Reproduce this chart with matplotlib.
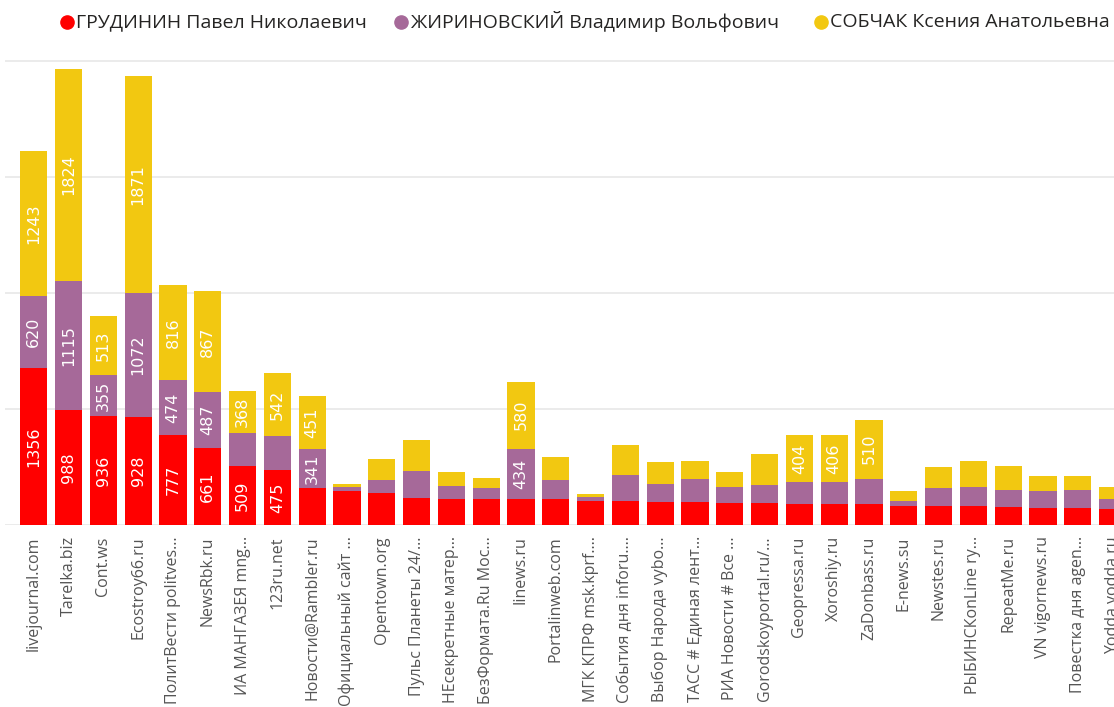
import matplotlib
matplotlib.use("Agg")
import matplotlib.pyplot as plt
from matplotlib.lines import Line2D
import numpy as np

# источники (подписи оси X, как в отчёте - уже обрезанные)
sources = [
    "livejournal.com", "Tarelka.biz", "Cont.ws", "Ecostroy66.ru",
    "ПолитВести politves...", "NewsRbk.ru", "ИА МАНГАЗЕЯ mng...", "123ru.net",
    "Новости@Rambler.ru", "Официальный сайт ...", "Opentown.org",
    "Пульс Планеты 24/...", "НЕсекретные матер...", "БезФормата.Ru Мос...",
    "Iinews.ru", "Portalinweb.com", "МГК КПРФ msk.kprf....",
    "События дня inforu....", "Выбор Народа vybo...", "ТАСС # Единая лент...",
    "РИА Новости # Все ...", "Gorodskoyportal.ru/...", "Geopressa.ru",
    "Xoroshiy.ru", "ZaDonbass.ru", "E-news.su", "Newstes.ru",
    "РЫБИНСКonLine ry...", "RepeatMe.ru", "VN vigornews.ru",
    "Повестка дня agen...", "Yodda yodda.ru",
]

grudinin = [1356, 988, 936, 928, 777, 661, 509, 475, 316, 293, 279, 236, 224, 222,
            222, 222, 204, 207, 201, 195, 190, 187, 181, 178, 178, 164, 164, 164,
            152, 149, 149, 138]
zhirinovsky = [620, 1115, 355, 1072, 474, 487, 282, 293, 341, 34, 106, 230, 112, 100,
               434, 167, 34, 221, 155, 201, 138, 155, 187, 190, 221, 43, 158, 167,
               149, 144, 152, 83]
sobchak = [1243, 1824, 513, 1871, 816, 867, 368, 542, 451, 26, 181, 264, 121, 86,
           580, 201, 29, 259, 190, 152, 129, 273, 404, 406, 510, 83, 181, 219,
           207, 129, 123, 103]

series_names = ["ГРУДИНИН Павел Николаевич", "ЖИРИНОВСКИЙ Владимир Вольфович",
                "СОБЧАК Ксения Анатольевна"]
colors = ["#FF0000", "#A66999", "#F2C811"]

label_min = 340  # подписи только на достаточно высоких сегментах

fig = plt.figure(figsize=(11.14, 7.07), dpi=100)
ax = fig.add_axes([0.0045, 0.2574, 0.9955, 0.6648])

x = np.arange(len(sources))
bottom = np.zeros(len(sources))
for vals, col in zip([grudinin, zhirinovsky, sobchak], colors):
    vals = np.array(vals, dtype=float)
    ax.bar(x, vals, bottom=bottom, width=0.78, color=col, zorder=3)
    for xi, b, v in zip(x, bottom, vals):
        if v >= label_min:
            ax.text(xi, b + v / 2, f"{int(v)}", rotation=90, ha="center",
                    va="center", color="white", fontsize=11.5,
                    family="DejaVu Sans", zorder=4)
    bottom += vals

ax.set_xlim(-0.825, 31.04)
ax.set_ylim(0, 4050)
ax.set_yticks([0, 1000, 2000, 3000, 4000])
ax.yaxis.grid(True, color="#E8E8E8", linewidth=1.2, zorder=0)
ax.tick_params(axis="y", left=False, labelleft=False)
ax.tick_params(axis="x", length=0, pad=8)
ax.set_xticks(x)
ax.set_xticklabels(sources, rotation=90, ha="center", va="top",
                   fontsize=11.5, family="Open Sans", color="#555555")
for s in ax.spines.values():
    s.set_visible(False)

# легенда сверху
legend_x = [0.060, 0.360, 0.737]
for lx, name, col in zip(legend_x, series_names, colors):
    fig.add_artist(Line2D([lx], [0.969], marker="o", markersize=9.5, color=col,
                          linestyle="none", transform=fig.transFigure))
    fig.text(lx + 0.0085, 0.969, name, ha="left", va="center", fontsize=14,
             family="Open Sans", color="#252423")

fig.savefig("out.png", dpi=100)
